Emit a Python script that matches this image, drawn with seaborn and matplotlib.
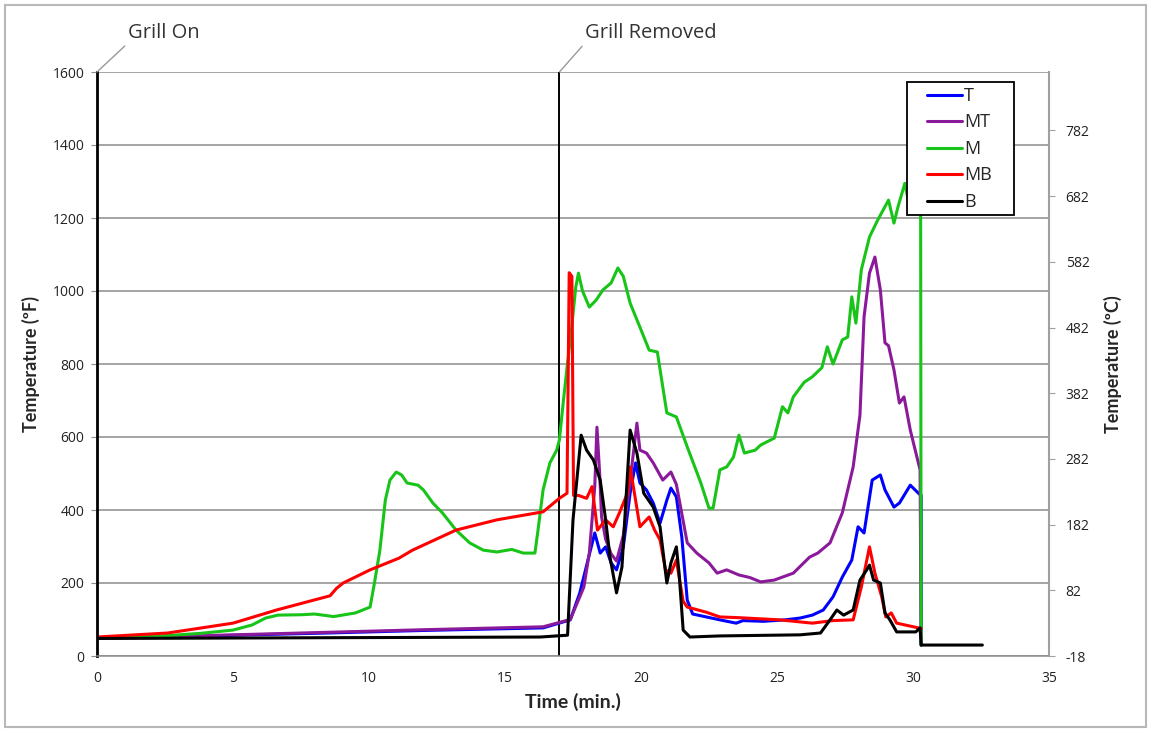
import numpy as np
import pandas as pd
import matplotlib
matplotlib.use("Agg")
import matplotlib.pyplot as plt
import seaborn as sns
from matplotlib.lines import Line2D
from matplotlib.patches import Rectangle

# ---------------- data ----------------
series_names = ["T", "MT", "M", "MB", "B"]
series_colors = ["#0000ff", "#8b1a9b", "#19c419", "#ff0000", "#000000"]

t_T = [0, 4, 8.5, 12, 16.4, 17.4, 17.75, 18.05, 18.3, 18.5, 18.7, 18.9, 19.1, 19.35, 19.6,
       19.8, 19.96, 20.2, 20.45, 20.7, 20.95, 21.1, 21.3, 21.5, 21.7, 21.9, 22.4, 22.9, 23.5,
       23.75, 24.5, 25.3, 25.85, 26.3, 26.7, 27.06, 27.4, 27.75, 27.98, 28.2, 28.5, 28.8,
       28.97, 29.3, 29.5, 29.9, 30.2, 30.3, 30.3]
v_T = [50, 55, 63, 70, 77, 99, 173, 263, 337, 282, 299, 255, 236, 299, 446,
       529, 474, 455, 419, 364, 427, 460, 436, 326, 153, 115, 107, 99, 90,
       97, 95, 99, 104, 112, 126, 162, 216, 263, 354, 337, 482, 496,
       455, 408, 419, 468, 446, 440, 30]

t_MT = [0, 4, 8.5, 12, 16.4, 17.4, 17.9, 18.1, 18.3, 18.38, 18.48, 18.55, 18.7, 18.9, 19.1,
        19.35, 19.6, 19.85, 19.96, 20.2, 20.45, 20.8, 21.1, 21.3, 21.7, 22.05, 22.5, 22.8,
        23.15, 23.6, 24.0, 24.4, 24.9, 25.6, 26.2, 26.5, 26.95, 27.4, 27.8, 28.05, 28.2,
        28.4, 28.6, 28.8, 28.97, 29.1, 29.3, 29.5, 29.67, 29.9, 30.26, 30.3]
v_MT = [50, 56, 65, 72, 80, 100, 189, 282, 464, 627, 500, 381, 320, 280, 260,
        330, 480, 638, 564, 556, 529, 482, 504, 470, 310, 282, 255, 227,
        236, 222, 215, 203, 208, 227, 271, 282, 310, 392, 518, 660, 929,
        1049, 1093, 1003, 858, 850, 784, 693, 710, 619, 510, 30]

t_M = [0, 2, 3.8, 5, 5.7, 6.2, 6.65, 7.5, 8.0, 8.7, 9.5, 10.04, 10.2, 10.4, 10.6, 10.77,
       11.0, 11.2, 11.4, 11.8, 12.0, 12.35, 12.7, 13.2, 13.7, 14.2, 14.7, 15.25, 15.67,
       16.1, 16.2, 16.4, 16.65, 16.9, 17.0, 17.15, 17.3, 17.45, 17.6, 17.7, 17.85, 18.1,
       18.35, 18.6, 18.9, 19.15, 19.35, 19.6, 19.96, 20.3, 20.6, 20.95, 21.3, 21.7, 22.2,
       22.5, 22.65, 22.9, 23.15, 23.4, 23.6, 23.8, 24.2, 24.4, 24.9, 25.2, 25.4, 25.6,
       26.0, 26.3, 26.65, 26.85, 27.06, 27.4, 27.6, 27.75, 27.9, 28.1, 28.4, 28.7, 29.1,
       29.3, 29.45, 29.7, 29.85, 30.0, 30.28, 30.3]
v_M = [50, 53, 62, 71, 85, 104, 112, 113, 115, 108, 118, 134, 200, 290, 427, 482,
       504, 496, 474, 468, 455, 419, 392, 345, 310, 290, 285, 292, 282,
       282, 337, 455, 529, 564, 592, 701, 803, 900, 1010, 1049, 1000, 956,
       975, 1003, 1022, 1063, 1040, 967, 901, 838, 833, 666, 655, 573, 474,
       405, 405, 510, 518, 545, 605, 556, 564, 578, 597, 683, 666, 710,
       750, 765, 790, 847, 800, 866, 874, 984, 912, 1058, 1148, 1194, 1249,
       1186, 1231, 1295, 1240, 1300, 1260, 30]

t_MB = [0, 2.6, 5, 6.6, 8.57, 8.8, 9.05, 10.04, 11.1, 11.6, 13.2, 14.7, 16.4, 17.0, 17.28,
        17.36, 17.46, 17.52, 17.7, 18.0, 18.2, 18.4, 18.7, 18.98, 19.2, 19.5, 19.6, 19.8,
        19.96, 20.3, 20.5, 20.7, 20.9, 21.1, 21.3, 21.55, 21.7, 22.4, 22.9, 23.6, 25.1,
        26.3, 27.06, 27.8, 28.1, 28.4, 28.6, 28.85, 29.0, 29.2, 29.4, 30.2, 30.3]
v_MB = [52, 63, 90, 126, 165, 185, 200, 236, 268, 290, 345, 373, 395, 432, 446,
        1050, 1040, 440, 440, 432, 464, 345, 373, 354, 391, 446, 518, 427,
        354, 381, 345, 318, 236, 227, 263, 150, 134, 120, 107, 105, 99,
        90, 97, 99, 189, 299, 227, 162, 107, 118, 90, 77, 75]

t_B = [0, 8, 16.3, 17.3, 17.5, 17.8, 18.0, 18.25, 18.5, 18.7, 18.86, 19.1, 19.3, 19.6,
       19.85, 20.1, 20.45, 20.7, 20.95, 21.1, 21.3, 21.4, 21.55, 21.8, 22.9, 25.85, 26.6,
       26.95, 27.2, 27.45, 27.8, 28.05, 28.3, 28.4, 28.55, 28.8, 28.97, 29.15, 29.4, 30.1,
       30.26, 30.3, 32.55]
v_B = [48, 50, 52, 57, 373, 605, 564, 537, 482, 373, 271, 173, 244, 619,
       556, 446, 408, 354, 200, 255, 299, 227, 71, 52, 55, 58, 63,
       99, 126, 112, 126, 208, 236, 249, 208, 200, 118, 99, 66, 66,
       77, 30, 30]

x_ticks = [0, 5, 10, 15, 20, 25, 30, 35]
yF_ticks = [0, 200, 400, 600, 800, 1000, 1200, 1400, 1600]
yC_labels = ["-18", "82", "182", "282", "382", "482", "582", "682", "782"]
grill_on_t = 0
grill_removed_t = 17

series_t = [t_T, t_MT, t_M, t_MB, t_B]
series_v = [v_T, v_MT, v_M, v_MB, v_B]

# ---------------- figure ----------------
sns.set_style("white")
plt.rcParams["font.family"] = ["Open Sans", "DejaVu Sans"]

W, H = 1151, 730
fig = plt.figure(figsize=(W / 100, H / 100), dpi=100)
ax = fig.add_axes([97 / W, 1 - 656 / H, (1049 - 97) / W, (656 - 72) / H])

for name, tt, vv, col in zip(series_names, series_t, series_v, series_colors):
    df = pd.DataFrame({"Time": tt, "Temp": vv})
    sns.lineplot(data=df, x="Time", y="Temp", ax=ax, color=col, lw=2.2,
                 sort=False, estimator=None, legend=False)

ax.set_xlim(0, 35)
ax.set_ylim(0, 1600)
ax.set_xticks(x_ticks)
ax.set_yticks(yF_ticks)
ax.yaxis.grid(True, color="#8c8c8c", lw=1.1)
ax.set_axisbelow(True)

for s in ["top", "right"]:
    ax.spines[s].set_visible(False)
ax.spines["bottom"].set_color("#8c8c8c")
ax.spines["bottom"].set_linewidth(1.1)
ax.spines["left"].set_color("black")
ax.spines["left"].set_linewidth(2.0)

ax.tick_params(axis="both", which="major", direction="out", length=4, width=0.8,
               color="#8c8c8c", labelsize=10, labelcolor="#222222")
ax.tick_params(axis="x", pad=7)
ax.tick_params(axis="y", pad=5)
lab_font = ["Lato", "DejaVu Sans"]
ax.set_xlabel("Time (min.)", fontsize=14, fontweight="bold", family=lab_font)
ax.set_ylabel("Temperature (ºF)", fontsize=13, fontweight="bold", family=lab_font)
ax.xaxis.set_label_coords(0.5, -0.063)
ax.yaxis.set_label_coords((40 - 97) / 952, 0.5)

# Grill removed line
ax.axvline(grill_removed_t, color="black", lw=1.4, zorder=1.5)

# Secondary Celsius axis
ax2 = ax.twinx()
ax2.set_ylim((0 - 32) * 5 / 9, (1600 - 32) * 5 / 9)
yc_pos = [(f - 32) * 5 / 9 for f in [0, 180, 360, 540, 720, 900, 1080, 1260, 1440]]
ax2.set_yticks(yc_pos)
ax2.set_yticklabels(yC_labels)
for s in ["top", "left", "bottom"]:
    ax2.spines[s].set_visible(False)
ax2.spines["right"].set_color("#a0a0a0")
ax2.spines["right"].set_linewidth(1.5)
ax2.tick_params(axis="y", direction="out", length=4, width=0.8, color="#a0a0a0",
                labelsize=10, labelcolor="#222222", pad=8)
ax2.set_ylabel("Temperature (ºC)", fontsize=13, fontweight="bold", family=lab_font)
ax2.yaxis.set_label_coords((1104 - 97) / 952, 0.5)
ax2.grid(False)

# Legend (frame drawn as a separate box to match the reference proportions)
def px2ax(x, y):
    return ((x - 97) / 952, (656 - y) / 584)

bx0, by0 = px2ax(907, 215)
bx1, by1 = px2ax(1014, 82)
ax2.add_patch(Rectangle((bx0, by0), bx1 - bx0, by1 - by0, transform=ax2.transAxes,
                        facecolor="white", edgecolor="black", lw=1.3, zorder=4))
handles = [Line2D([0], [0], color=c, lw=2.2) for c in series_colors]
leg = ax2.legend(handles, series_names, loc="upper left",
                 bbox_to_anchor=px2ax(927, 87),
                 frameon=False, fontsize=13, handlelength=1.95, handletextpad=0.1,
                 labelspacing=0.47, borderpad=0, borderaxespad=0)
leg.set_zorder(5)

# Annotations
for label, tx, xtext in [("Grill On", grill_on_t, 128), ("Grill Removed", grill_removed_t, 585)]:
    ax.annotate(label, xy=(tx, 1600), xycoords="data",
                xytext=(xtext / W, 1 - 33 / H), textcoords="figure fraction",
                fontsize=14.5, color="#333333", ha="left", va="center",
                arrowprops=dict(arrowstyle="-", color="#999999", lw=1,
                                shrinkA=0, shrinkB=0, relpos=(0, 0)),
                annotation_clip=False)

# outer chart border
fig.patches.append(Rectangle((5 / W, 3 / H), 1141 / W, 722 / H,
                             transform=fig.transFigure, fill=False,
                             edgecolor="#b8b8b8", lw=1.5))

fig.savefig("out.png", dpi=100)
